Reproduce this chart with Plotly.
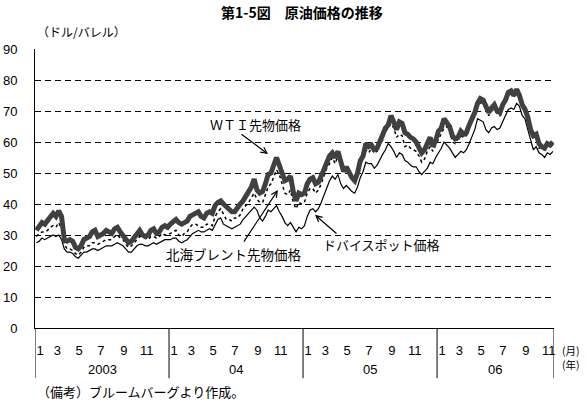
import plotly.graph_objects as go

# Weekly values (4 per month), Jan 2003 - mid Nov 2006, US$/barrel
wti = [
    31.5, 32.5, 34.0, 33.5, 34.5, 36.0, 37.0, 36.0, 37.8, 36.0, 28.5, 28.0,
    28.5, 28.0, 26.0, 25.5, 26.5, 28.5, 29.0, 29.5, 31.0, 31.5, 29.5, 30.0,
    30.5, 31.5, 31.0, 30.5, 32.0, 32.5, 31.0, 30.0, 28.5, 27.5, 28.0, 29.0,
    30.5, 31.5, 30.0, 29.5, 30.0, 31.5, 32.0, 30.5, 31.0, 32.5, 33.0, 32.5,
    # 2004
    33.5, 34.5, 35.0, 34.0, 33.5, 34.0, 34.5, 36.0, 36.5, 37.0, 37.5, 36.0,
    35.5, 37.0, 37.5, 37.0, 39.5, 40.5, 41.0, 40.0, 39.0, 38.0, 37.5, 37.5,
    39.0, 40.0, 41.0, 42.5, 44.0, 45.5, 48.0, 44.5, 43.5, 44.0, 46.5, 49.5,
    50.0, 53.0, 55.0, 52.5, 49.5, 47.5, 48.0, 49.0, 44.0, 41.0, 43.5, 43.0,
    # 2005
    43.5, 46.5, 48.0, 48.5, 46.5, 47.0, 49.0, 51.5, 53.5, 55.5, 56.5, 55.0,
    57.0, 53.5, 50.5, 52.0, 50.0, 48.5, 47.5, 50.0, 54.0, 55.5, 59.5, 58.5,
    59.0, 57.5, 58.0, 60.5, 62.0, 64.5, 65.5, 68.5, 66.5, 64.0, 66.5, 66.0,
    63.0, 62.5, 61.5, 61.0, 60.0, 58.0, 56.5, 57.5, 59.5, 61.5, 58.5, 60.5,
    # 2006
    63.5, 64.5, 67.5, 66.5, 65.0, 62.0, 61.0, 61.5, 63.5, 62.5, 63.0, 65.5,
    67.5, 69.5, 72.5, 74.0, 73.5, 71.5, 69.5, 71.0, 72.0, 70.0, 69.5, 72.0,
    73.5, 76.0, 76.5, 75.0, 77.0, 75.0, 72.0, 70.5, 68.0, 64.0, 62.0, 62.5,
    59.5, 58.5, 58.0, 59.5, 59.0, 60.0,
]

brent = [
    29.5, 30.5, 31.0, 31.0, 31.5, 32.5, 33.0, 32.5, 34.0, 32.0, 27.0, 25.5,
    25.5, 25.0, 24.0, 23.5, 24.5, 26.0, 26.5, 26.5, 27.5, 27.5, 27.0, 27.5,
    28.0, 28.5, 28.5, 28.5, 29.5, 30.0, 29.0, 28.5, 27.0, 26.0, 26.5, 27.5,
    28.5, 29.5, 29.5, 29.0, 28.5, 29.5, 29.5, 29.0, 29.5, 30.5, 30.0, 30.0,
    # 2004
    30.5, 31.0, 31.5, 30.0, 29.5, 30.5, 31.0, 32.5, 33.5, 33.5, 33.0, 32.5,
    32.5, 33.5, 33.5, 33.0, 36.0, 37.5, 38.5, 36.5, 35.0, 35.0, 34.5, 35.5,
    35.5, 36.5, 38.5, 39.5, 40.5, 42.0, 43.5, 41.5, 40.5, 40.5, 43.0, 45.5,
    46.5, 49.0, 51.0, 49.5, 46.5, 43.5, 43.0, 44.5, 40.5, 38.5, 40.5, 40.0,
    # 2005
    40.5, 43.5, 45.0, 45.0, 43.5, 44.5, 46.5, 49.0, 51.5, 53.0, 55.0, 53.0,
    55.5, 52.5, 51.5, 51.5, 49.5, 48.0, 47.0, 49.5, 52.5, 54.5, 57.5, 56.5,
    58.0, 56.5, 57.0, 59.5, 60.5, 63.5, 64.5, 66.0, 64.5, 61.5, 62.5, 62.0,
    58.5, 59.0, 58.0, 57.5, 57.0, 55.5, 53.5, 54.5, 57.0, 58.5, 57.0, 59.0,
    # 2006
    61.0, 62.5, 64.5, 65.0, 63.5, 60.0, 59.5, 61.0, 62.0, 61.5, 62.0, 64.5,
    66.5, 68.5, 72.0, 72.5, 73.0, 71.0, 68.5, 70.0, 70.5, 69.0, 68.5, 71.0,
    73.0, 75.0, 75.5, 74.5, 76.5, 75.0, 72.0, 71.0, 67.5, 63.5, 61.5, 62.0,
    58.0, 58.5, 57.5, 59.0, 58.5, 59.5,
]

dubai = [
    27.5, 28.0, 29.0, 28.5, 29.0, 29.5, 30.0, 29.5, 30.0, 28.5, 25.5, 24.5,
    24.5, 24.0, 23.0, 22.5, 23.5, 24.5, 24.5, 25.0, 25.5, 25.5, 25.0, 25.5,
    26.0, 26.5, 26.5, 26.5, 27.0, 27.5, 27.0, 26.5, 25.5, 24.5, 24.5, 25.5,
    26.5, 27.0, 27.0, 26.5, 26.5, 27.0, 27.5, 27.0, 27.5, 28.0, 28.5, 28.5,
    # 2004
    28.5, 29.0, 29.0, 28.0, 27.5, 28.0, 28.5, 29.5, 30.5, 31.0, 31.5, 31.0,
    31.0, 31.5, 32.0, 31.5, 33.5, 35.0, 35.5, 33.5, 33.0, 32.5, 32.0, 32.5,
    33.0, 33.5, 35.0, 36.0, 37.0, 38.0, 39.0, 38.0, 35.5, 34.5, 36.0, 38.0,
    37.5, 38.5, 39.5, 37.5, 36.0, 34.0, 33.0, 34.0, 32.5, 31.0, 32.5, 32.0,
    # 2005
    33.0, 36.0, 38.0, 38.5, 37.5, 38.5, 40.5, 43.0, 45.5, 47.5, 49.0, 48.0,
    49.5, 46.5, 45.0, 46.0, 45.0, 44.0, 43.5, 45.5, 48.5, 50.5, 53.5, 53.0,
    53.0, 51.5, 52.5, 54.5, 56.0, 57.5, 59.5, 58.5, 57.0, 55.0, 56.5, 56.0,
    54.0, 53.5, 52.5, 52.0, 52.0, 50.5, 49.5, 50.5, 51.5, 53.5, 53.0, 55.0,
    # 2006
    56.5, 58.0, 60.0, 59.0, 58.0, 56.5, 55.0, 56.0, 57.0, 56.5, 57.5, 59.5,
    62.0, 64.0, 67.5, 67.0, 66.5, 64.0, 63.0, 64.5, 65.0, 64.0, 64.5, 66.5,
    68.5, 70.5, 71.0, 70.5, 72.5, 71.5, 68.5, 67.5, 64.0, 60.5, 57.5, 58.5,
    56.5, 56.0, 55.0, 56.5, 56.0, 57.0,
]

# x positions in months since Jan 2003 (weekly steps)
xs = [i / 4 + 0.125 for i in range(len(wti))]

month_names = ["1", "3", "5", "7", "9", "11"]
month_offsets = [0.45, 2.0, 3.95, 5.9, 7.95, 10.0]
month_vals = [y * 12 + o for y in range(4) for o in month_offsets]
month_text = [m for y in range(4) for m in month_names]
year_labels = ["2003", "04", "05", "06"]
year_centers = [6, 18, 30, 41.2]
year_bounds = [12, 24, 36]
x_end = 46.47

JP = "Noto Sans CJK JP"
NUM = "Liberation Sans"

fig = go.Figure()
fig.add_trace(go.Scatter(x=xs, y=dubai, mode="lines",
                         line=dict(color="black", width=1.2), name="ドバイ"))
fig.add_trace(go.Scatter(x=xs, y=brent, mode="lines",
                         line=dict(color="black", width=1.5, dash="dot"), name="北海ブレント"))
fig.add_trace(go.Scatter(x=xs, y=wti, mode="lines",
                         line=dict(color="#404040", width=5), name="WTI"))

fig.update_layout(
    width=588, height=406,
    margin=dict(l=35, r=34, t=49, b=78, autoexpand=False),
    paper_bgcolor="white", plot_bgcolor="white",
    showlegend=False,
    xaxis=dict(range=[0, x_end], tickvals=month_vals, ticktext=month_text,
               showgrid=False, zeroline=False, showline=True, linecolor="black",
               linewidth=1, ticks="", ticklabelstandoff=10, automargin=False,
               tickfont=dict(family=NUM, size=13, color="black")),
    yaxis=dict(range=[0, 90], tickvals=list(range(0, 91, 10)),
               showgrid=True, gridcolor="black", gridwidth=1, griddash="6px,4px",
               zeroline=False, showline=True, linecolor="black", linewidth=1,
               ticks="", ticklabelstandoff=14, automargin=False,
               tickfont=dict(family=NUM, size=13, color="black")),
)

sep_bottom = -0.18
shapes = [dict(type="line", xref="x", yref="paper", x0=0, x1=0, y0=sep_bottom, y1=0,
               line=dict(color="black", width=1))]
for b in year_bounds + [x_end]:
    shapes.append(dict(type="line", xref="x", yref="paper", x0=b, x1=b,
                       y0=sep_bottom, y1=0, line=dict(color="black", width=1)))
fig.update_layout(shapes=shapes)

ann = []
for lab, c in zip(year_labels, year_centers):
    ann.append(dict(x=c, y=-0.15, xref="x", yref="paper", text=lab, showarrow=False,
                    font=dict(family=NUM, size=13, color="black"),
                    xanchor="center", yanchor="middle"))
ann += [
    dict(x=0.514, y=1.133, xref="paper", yref="paper", text="<b>第1-5図　原油価格の推移</b>",
         showarrow=False, font=dict(family=JP, size=14, color="black"),
         xanchor="center", yanchor="middle"),
    dict(x=0, y=1.061, xref="paper", yref="paper", text="（ドル/バレル）",
         showarrow=False, font=dict(family=JP, size=12, color="black"),
         xanchor="left", yanchor="middle"),
    dict(x=1.014, y=-0.104, xref="paper", yref="paper", text="(月)<br>(年)",
         showarrow=False, font=dict(family=JP, size=10.5, color="black"),
         xanchor="left", yanchor="middle", align="left", borderpad=0),
    dict(x=0, y=-0.229, xref="paper", yref="paper", text="（備考）ブルームバーグより作成。",
         showarrow=False, font=dict(family=JP, size=13, color="black"),
         xanchor="left", yanchor="middle"),
    # series labels
    dict(x=19.7, y=65.5, xref="x", yref="y", text="ＷＴＩ先物価格", showarrow=False,
         font=dict(family=JP, size=13, color="black"), xanchor="center", yanchor="middle"),
    dict(x=17.8, y=23.9, xref="x", yref="y", text="北海ブレント先物価格", showarrow=False,
         font=dict(family=JP, size=13.5, color="black"), xanchor="center", yanchor="middle"),
    dict(x=31.0, y=26.8, xref="x", yref="y", text="ドバイスポット価格", showarrow=False,
         font=dict(family=JP, size=13, color="black"), xanchor="center", yanchor="middle"),
    # arrows
    dict(x=20.86, y=56.1, xref="x", yref="y", ax=-28, ay=-21, text="", showarrow=True,
         arrowhead=5, arrowsize=1, arrowwidth=1.2, arrowcolor="black"),
    dict(x=21.75, y=44.5, xref="x", yref="y", ax=-35, ay=53, text="", showarrow=True,
         arrowhead=5, arrowsize=1, arrowwidth=1.2, arrowcolor="black"),
    dict(x=25.07, y=36.5, xref="x", yref="y", ax=23, ay=20, text="", showarrow=True,
         arrowhead=5, arrowsize=1, arrowwidth=1.2, arrowcolor="black"),
]
fig.update_layout(annotations=ann)

fig.write_html("out.html")
